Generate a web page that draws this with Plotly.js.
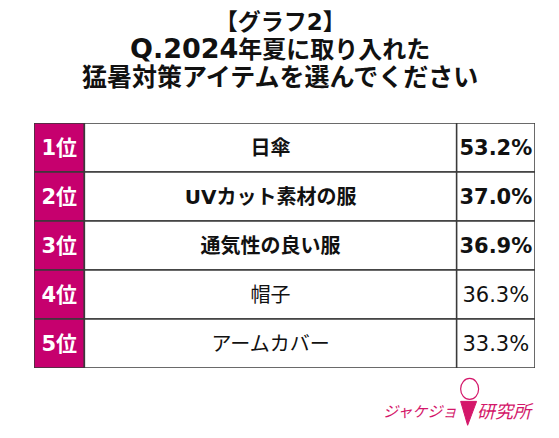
<!DOCTYPE html>
<html>
<head>
<meta charset="utf-8">
<script src="https://cdn.plot.ly/plotly-3.0.1.min.js"></script>
<style>
  html, body { margin: 0; padding: 0; background: #fff; }
  #chart { width: 559px; height: 438px; }
</style>
</head>
<body>
<div id="chart"></div>
<script>
// data
const ranks = ['1位', '2位', '3位', '4位', '5位'];
const items = ['日傘', 'UVカット素材の服', '通気性の良い服', '帽子', 'アームカバー'];
const shares = [53.2, 37.0, 36.9, 36.3, 33.3];
const titleLines = ['【グラフ2】', ['Q.2024', '年夏に取り入れた'], '猛暑対策アイテムを選んでください'];
const brand = ['ジャケジョ', '研究所'];

// layout constants (pixels)
const W = 559, H = 438;
const L = 33.5, R = 535.5, T = 122.5, B = 368.5;
const colEdges = [L, 84, 457, R];
const topN = 3;

const FONT = 'DejaVu Sans, "Noto Sans CJK JP", sans-serif';
const MAGENTA = '#C6006E';
const BORDER = '#3a3a3a';
const PINK = '#D4176A';

const rowIdx = ranks.map((r, i) => i);
const bold = (s, i) => i < topN ? '<b>' + s + '</b>' : s;
const sized = (s, px) => '<span style="font-size:' + px + 'px">' + s + '</span>';

function column(k, fill, text, size, color) {
  return {
    type: 'bar',
    orientation: 'h',
    y: rowIdx,
    x: rowIdx.map(() => colEdges[k + 1] - colEdges[k]),
    base: colEdges[k],
    width: 1,
    marker: {color: fill, line: {color: BORDER, width: 1.5}},
    text: text,
    textposition: 'inside',
    insidetextanchor: 'middle',
    textangle: 0,
    constraintext: 'none',
    textfont: {family: FONT, size: size, color: color},
    hoverinfo: 'none',
    cliponaxis: false,
    showlegend: false
  };
}

const data = [
  column(0, MAGENTA, ranks.map(r => '<b>' + r + '</b>'), 21, '#fff'),
  column(1, '#fff', items.map(bold), 20, '#111'),
  column(2, '#fff', shares.map((v, i) => bold(v.toFixed(1) + '%', i)), 21, '#111')
];

const py = pix => (B - pix) / (B - T);

// title: one block, line spacing comes from the base font size
const titleText = '<b>' + [
  sized(titleLines[0], 23),
  sized(titleLines[1][0], 27) + sized(titleLines[1][1], 24),
  sized(titleLines[2], 25)
].join('<br>') + '</b>';

const annotations = [
  {text: titleText, x: 280, y: py(50), xref: 'x', yref: 'paper',
   xanchor: 'center', yanchor: 'middle', align: 'center', showarrow: false,
   font: {family: FONT, size: 21.5, color: '#111'}},
  {text: brand[0], x: 459, y: py(411), xref: 'x', yref: 'paper', xanchor: 'right', yanchor: 'middle',
   showarrow: false, font: {family: '"Noto Sans CJK JP", sans-serif', size: 15, color: PINK, style: 'italic'}},
  {text: brand[1], x: 475, y: py(411), xref: 'x', yref: 'paper', xanchor: 'left', yanchor: 'middle',
   showarrow: false, font: {family: '"Noto Sans CJK JP", sans-serif', size: 18, color: PINK, style: 'italic'}}
];

// little logo figure: head outline and tie
const shapes = [
  {type: 'circle', xref: 'x', yref: 'paper', x0: 461, x1: 479, y0: py(400), y1: py(379),
   line: {color: PINK, width: 1.2}},
  {type: 'path', xref: 'x', yref: 'paper',
   path: 'M 461 ' + py(402) + ' L 477 ' + py(402) + ' L 468 ' + py(426) + ' Z',
   fillcolor: PINK, line: {color: PINK, width: 1}}
];

const layout = {
  width: W,
  height: H,
  margin: {l: L, r: W - R, t: T, b: H - B, pad: 0},
  paper_bgcolor: '#fff',
  plot_bgcolor: '#fff',
  barmode: 'overlay',
  xaxis: {range: [L, R], visible: false, fixedrange: true},
  yaxis: {range: [ranks.length - 0.5, -0.5], visible: false, fixedrange: true},
  annotations: annotations,
  shapes: shapes
};

Plotly.newPlot('chart', data, layout, {displayModeBar: false, staticPlot: true});
</script>
</body>
</html>
